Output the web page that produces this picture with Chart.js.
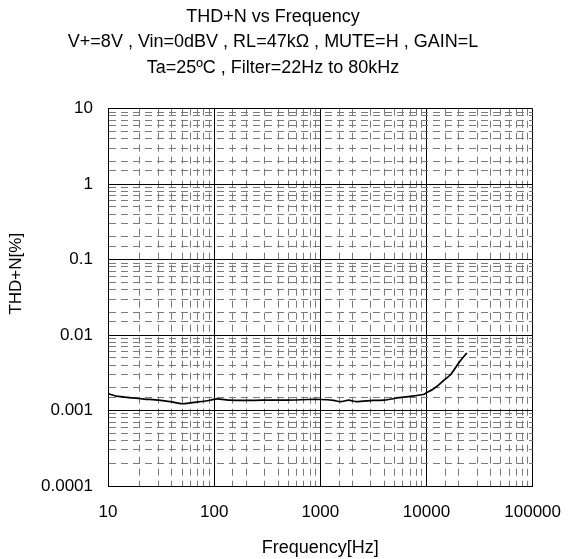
<!DOCTYPE html>
<html>
<head>
<meta charset="utf-8">
<script src="https://cdn.jsdelivr.net/npm/chart.js@4"></script>
<style>
  html, body { margin: 0; padding: 0; background: #fff; }
  #wrap { width: 577px; height: 559px; }
</style>
</head>
<body>
<div id="wrap"><canvas id="c" width="577" height="559"></canvas></div>
<script>
// ---- data ----
const titleLines = [
  'THD+N vs Frequency',
  'V+=8V , Vin=0dBV , RL=47kΩ , MUTE=H , GAIN=L',
  'Ta=25ºC , Filter=22Hz to 80kHz'
];
const xAxisTitle = 'Frequency[Hz]';
const yAxisTitle = 'THD+N[%]';
const xTickLabels = ['10', '100', '1000', '10000', '100000'];
const yTickLabels = ['0.0001', '0.001', '0.01', '0.1', '1', '10'];

const freqHz = [10, 12, 17, 22, 30, 40, 51, 70, 92, 107, 141, 200, 286, 400, 575, 760, 1000,
                1340, 1550, 1850, 2200, 3130, 4000, 5500, 7300, 9300, 10000, 11500, 12800,
                14500, 16900, 20200, 24000];
const thdnPct = [0.00168, 0.00155, 0.00147, 0.00142, 0.00137, 0.0013, 0.00123, 0.0013, 0.00137,
                 0.00143, 0.00137, 0.00136, 0.00137, 0.00137, 0.00138, 0.0014, 0.0014,
                 0.00136, 0.00131, 0.00137, 0.00131, 0.00136, 0.00137, 0.00148, 0.00155,
                 0.00163, 0.00172, 0.00192, 0.00214, 0.0025, 0.003, 0.0043, 0.0058];

// ---- chart ----
const FONT = '"Liberation Sans", Arial, sans-serif';
Chart.defaults.color = '#000';
Chart.defaults.font.family = FONT;

function isPow10(v) {
  const l = Math.log10(v);
  return Math.abs(l - Math.round(l)) < 1e-6;
}
function gridColor(ctx) {
  if (!ctx.tick) return '#000';
  return isPow10(ctx.tick.value) ? '#000' : '#7a7a7a';
}
function gridDash(ctx) {
  if (!ctx.tick) return [];
  return isPow10(ctx.tick.value) ? [] : [7, 5];
}

const points = freqHz.map((f, i) => ({ x: f, y: thdnPct[i] }));

new Chart(document.getElementById('c'), {
  type: 'scatter',
  data: {
    datasets: [{
      data: points,
      showLine: true,
      borderColor: '#000',
      borderWidth: 1.7,
      pointRadius: 0,
      tension: 0.2,
      fill: false
    }]
  },
  options: {
    responsive: false,
    animation: false,
    devicePixelRatio: 1,
    layout: { padding: { left: 0, right: 31, top: 0, bottom: 0 } },
    plugins: {
      legend: { display: false },
      tooltip: { enabled: false },
      title: {
        display: true,
        text: titleLines,
        color: '#000',
        font: { family: FONT, size: 18, weight: 'normal', lineHeight: 1.42 },
        padding: { top: 4, bottom: 28 }
      }
    },
    scales: {
      x: {
        type: 'logarithmic',
        min: 10,
        max: 100000,
        afterFit: (s) => { s.height = 73; },
        grid: { color: gridColor, lineWidth: 1, drawTicks: false },
        border: { display: true, color: '#000', width: 1, dash: gridDash },
        ticks: {
          autoSkip: false,
          maxRotation: 0,
          padding: 16,
          font: { family: FONT, size: 17 },
          callback: (v) => isPow10(v) ? xTickLabels[Math.round(Math.log10(v)) - 1] : ''
        },
        title: {
          display: true,
          text: xAxisTitle,
          font: { family: FONT, size: 18 },
          padding: { top: 0, bottom: 0 }
        }
      },
      y: {
        type: 'logarithmic',
        min: 0.0001,
        max: 10,
        afterFit: (s) => { s.width = 108; },
        grid: { color: gridColor, lineWidth: 1, drawTicks: false },
        border: { display: true, color: '#000', width: 1, dash: gridDash },
        ticks: {
          autoSkip: false,
          padding: 15,
          font: { family: FONT, size: 17 },
          callback: (v) => isPow10(v) ? yTickLabels[Math.round(Math.log10(v)) + 4] : ''
        },
        title: {
          display: true,
          text: '\u00a0'.repeat(10) + yAxisTitle,
          font: { family: FONT, size: 17 },
          padding: { top: 6, bottom: 0 }
        }
      }
    }
  }
});
</script>
</body>
</html>
